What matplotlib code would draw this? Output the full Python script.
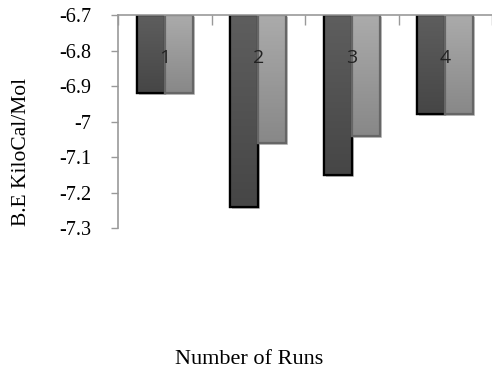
import matplotlib.pyplot as plt
import matplotlib.patheffects as pe
from matplotlib.colors import LinearSegmentedColormap
import numpy as np

# Binding energy per run (two docking results each)
runs = ['1', '2', '3', '4']
be_first = [-6.92, -7.24, -7.15, -6.98]
be_second = [-6.92, -7.06, -7.04, -6.98]
y_ticks = [-6.7, -6.8, -6.9, -7.0, -7.1, -7.2, -7.3]
y_tick_labels = ['-6.7', '-6.8', '-6.9', '-7', '-7.1', '-7.2', '-7.3']

base = -6.7
x = np.arange(len(runs))
width = 0.3

fig = plt.figure(figsize=(4.92, 3.70), dpi=100)
ax = fig.add_axes([118 / 492, 1 - 228 / 370, 374 / 492, 213 / 370])

shadow = [pe.SimplePatchShadow(offset=(1.5, -1.5), shadow_rgbFace='0.6', alpha=0.5), pe.Normal()]
dark_cmap = LinearSegmentedColormap.from_list('dark', ['#5e5e5e', '#464646'])
light_cmap = LinearSegmentedColormap.from_list('light', ['#ababab', '#888888'])


def shaded_bars(xpos, values, face, edge, cmap, z):
    bars = ax.bar(xpos, np.array(values) - base, width, bottom=base,
                  color=face, edgecolor=edge, linewidth=1.6, zorder=z)
    grad = np.linspace(0, 1, 64).reshape(-1, 1)
    for b in bars:
        b.set_path_effects(shadow)
        x0, x1 = b.get_x(), b.get_x() + b.get_width()
        y_top, y_bot = base, base + b.get_height()
        im = ax.imshow(grad, extent=[x0, x1, y_bot, y_top], origin='upper',
                       cmap=cmap, aspect='auto', zorder=z + 0.1)
        im.set_clip_path(b)
        # outline drawn over the gradient
        ax.bar(b.get_x() + b.get_width() / 2, b.get_height(), width, bottom=base,
               color='none', edgecolor=edge, linewidth=1.6, zorder=z + 0.2)
    return bars


shaded_bars(x - width / 2, be_first, '#525252', 'black', dark_cmap, 2)
shaded_bars(x + width / 2, be_second, '#9a9a9a', '#666666', light_cmap, 3)

# Run numbers written inside each group
for i, r in enumerate(runs):
    ax.text(i, -6.822, r, ha='center', va='center', fontsize=14,
            family='Open Sans', color='#222222', zorder=5)

ax.set_xlim(-0.5, len(runs) - 0.5)
ax.set_ylim(-7.3, -6.7)
ax.set_yticks(y_ticks)
ax.set_yticklabels(y_tick_labels, family='Liberation Serif', fontsize=14.5)

ax.set_xticks(np.arange(len(runs) + 1) - 0.5)
ax.set_xticklabels([])
ax.xaxis.set_ticks_position('top')
ax.tick_params(axis='x', direction='in', length=7, color='#999999', width=1)
ax.tick_params(axis='y', direction='out', length=5, color='#999999', width=1, pad=14)

for s in ['right', 'bottom']:
    ax.spines[s].set_visible(False)
for s in ['left', 'top']:
    ax.spines[s].set_color('#999999')
    ax.spines[s].set_linewidth(1.2)
    ax.spines[s].set_zorder(6)

fig.text(22 / 492, 1 - 152 / 370, 'B.E KiloCal/Mol', rotation=90, ha='center', va='center',
         family='Liberation Serif', fontsize=15.5)
fig.text(249 / 492, 1 - 360 / 370, 'Number of Runs', ha='center', va='center',
         family='Liberation Serif', fontsize=16)

plt.savefig('out.png', dpi=100)
